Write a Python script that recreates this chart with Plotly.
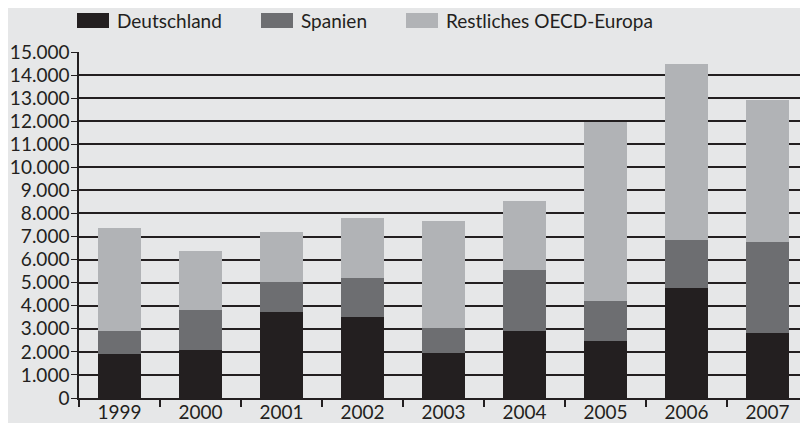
import plotly.graph_objects as go

years = ["1999", "2000", "2001", "2002", "2003", "2004", "2005", "2006", "2007"]
deutschland = [1890, 2090, 3740, 3520, 1930, 2920, 2480, 4780, 2830]
spanien = [1030, 1740, 1300, 1690, 1120, 2640, 1740, 2080, 3950]
restliches = [4460, 2550, 2170, 2610, 4640, 2990, 7730, 7630, 6150]
series_names = ["Deutschland", "Spanien", "Restliches OECD-Europa"]
y_ticks = list(range(0, 15001, 1000))
y_ticktext = [f"{v:,}".replace(",", ".") for v in y_ticks]

FONT = "Lato"
FS = 19
BG = "#e6e7e8"
INK = "#231f20"
COLORS = ["#231f20", "#6d6e71", "#b1b3b6"]

# the page body adds an 8px offset; compensate so the figure fills the 808x423 window
OFF = 8
W, H = 808 - OFF, 423 - OFF
ML, MR, MT, MB = 79 - OFF, 0, 52 - OFF, 25
PW, PH = W - ML - MR, H - MT - MB


def px_x(px):
    return (px - OFF - ML) / PW


def px_y(py):
    return (H - MB - (py - OFF)) / PH


fig = go.Figure()
for name, vals, col in zip(series_names, [deutschland, spanien, restliches], COLORS):
    fig.add_trace(go.Bar(x=years, y=vals, name=name, marker=dict(color=col, line=dict(width=0))))

# custom legend (wide swatches as in the reference)
legend_swatch_x = [77, 261, 406]
for name, col, sx in zip(series_names, COLORS, legend_swatch_x):
    fig.add_shape(type="rect", xref="paper", yref="paper",
                  x0=px_x(sx), x1=px_x(sx + 32), y0=px_y(28), y1=px_y(13),
                  fillcolor=col, line=dict(width=0), layer="above")
    fig.add_annotation(xref="paper", yref="paper", x=px_x(sx + 38), y=px_y(20.5),
                       text=name, showarrow=False, xanchor="left", yanchor="middle",
                       font=dict(family=FONT, size=FS, color=INK))

fig.update_layout(
    barmode="stack",
    bargap=0.46,
    width=W, height=H,
    margin=dict(l=ML, r=MR, t=MT, b=MB, autoexpand=False),
    paper_bgcolor=BG, plot_bgcolor=BG,
    font=dict(family=FONT, size=FS, color=INK),
    showlegend=False,
)
fig.update_xaxes(
    type="category", tickson="boundaries", ticks="outside", ticklen=7, tickwidth=1.5,
    tickcolor=INK, showline=True, linecolor=INK, linewidth=1.5,
    showgrid=False, tickfont=dict(size=FS), ticklabelstandoff=-4,
)
fig.update_yaxes(
    range=[0, 15000], tickvals=y_ticks, ticktext=y_ticktext, ticks="outside", ticklen=6,
    tickwidth=1.2, tickcolor=INK, showline=True, linecolor=INK, linewidth=1.5,
    showgrid=True, gridcolor=INK, gridwidth=1.6, zeroline=False,
    tickfont=dict(size=FS), ticklabelstandoff=-2,
)

fig.write_html("out.html")
